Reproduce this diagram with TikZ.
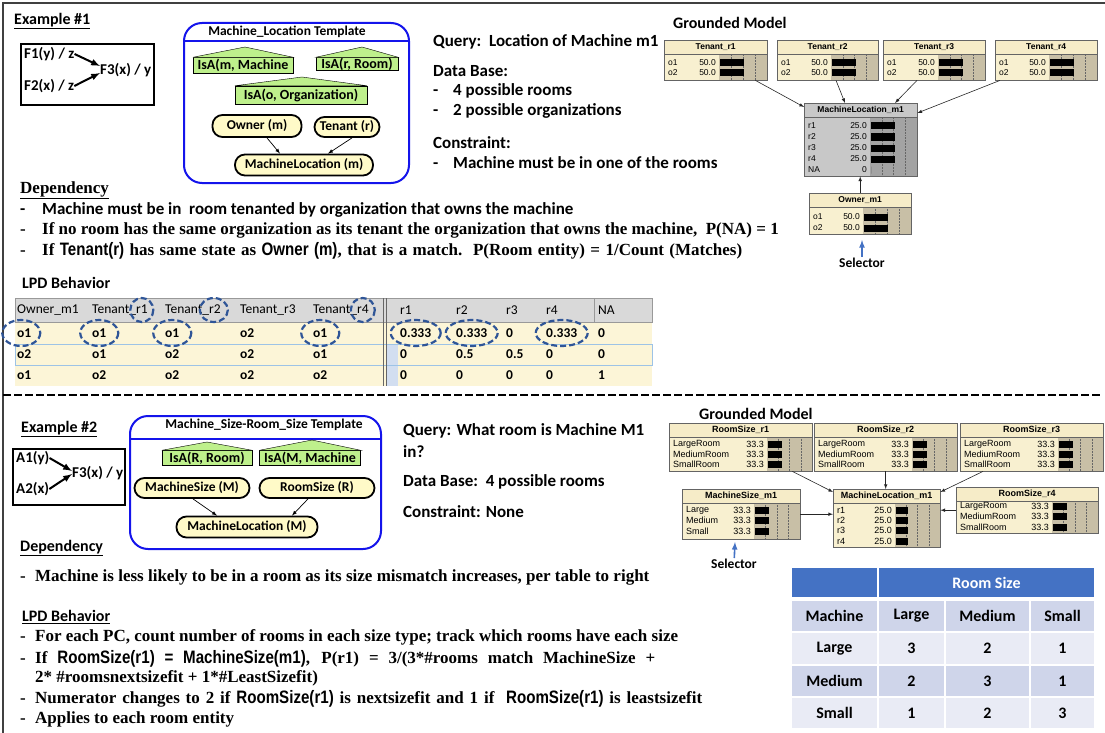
\documentclass[tikz,border=0pt]{standalone}
\usepackage{fontspec}
\setmainfont{Carlito}
\newfontfamily\serifbf{Liberation Serif}
\newfontfamily\narrowsans[FakeStretch=0.84]{Liberation Sans}
\newfontfamily\netfont{Liberation Sans}
\usepackage{tikz}
\usetikzlibrary{arrows}
\usetikzlibrary{calc}
\usetikzlibrary{positioning}

\definecolor{templblue}{RGB}{20,20,235}
\definecolor{isagreen}{RGB}{190,240,140}
\definecolor{nodeyellow}{RGB}{255,250,200}
\definecolor{tblhead}{RGB}{217,217,217}
\definecolor{tblrow}{RGB}{252,245,215}
\definecolor{selblue}{RGB}{157,195,230}
\definecolor{stripblue}{RGB}{210,222,240}
\definecolor{dashblue}{RGB}{47,85,151}
\definecolor{netedge}{RGB}{100,100,100}
\definecolor{nbA}{RGB}{248,240,208}
\definecolor{nhA}{RGB}{246,236,200}
\definecolor{nbarA}{RGB}{200,191,166}
\definecolor{nbB}{RGB}{200,200,200}
\definecolor{nhB}{RGB}{200,200,200}
\definecolor{nbarB}{RGB}{163,163,163}
\definecolor{selarrowc}{RGB}{68,114,196}
\definecolor{rshead}{RGB}{68,114,196}
\definecolor{rsdark}{RGB}{207,213,234}
\definecolor{rslight}{RGB}{233,235,245}

\def\nethh{14}
\def\netfs{8.5}
% #1 colours, #2 name, #3 x, #4 y, #5 width, #6 height, #7 bar start, #8 title, #9 rows
\newcommand{\netnode}[9]{%
  \node[netbody, fill=nb#1, minimum width=#5, minimum height=#6] (#2) at (#3,#4) {};
  \fill[nbar#1] ({#3+#7},{#4+\nethh}) rectangle ({#3+#5},{#4+#6});
  \foreach \f in {0.25,0.5,0.75}
    \draw[netgrid] ({#3+#7+\f*(#5-#7)},{#4+\nethh}) -- ++(0,{#6-\nethh});
  \node[nethead, fill=nh#1, minimum width=#5] (#2-t) at (#3,#4) {#8};
  \foreach \lab/\val/\bl/\yy [count=\k] in {#9} {
    \node[netrow, anchor=west] (#2-l\k) at ({#3+4},{#4+\yy}) {\lab};
    \node[netrow, anchor=east] (#2-v\k) at ({#3+#7-3},{#4+\yy}) {\val};
    \fill ({#3+#7+1},{#4+\yy-3.5}) rectangle ++(\bl,7);
  }
  \draw[netedge] (#2.north west) rectangle (#2.south east);
}
\newcommand{\nsans}[1]{{\narrowsans\fontsize{18}{20}\selectfont #1}}

\begin{document}
\begin{tikzpicture}
	[x=1pt, y=-1pt, > = latex,
	frameline/.style = {line width=2pt, black!75},
	sepline/.style = {line width=2.5pt, dash pattern=on 8pt off 3pt},
	txt/.style = {inner sep=0pt, anchor=west},
	head/.style = {txt, font=\fontsize{16}{19}\selectfont\bfseries},
	query/.style = {txt, font=\fontsize{17}{20}\selectfont\bfseries},
	serif/.style = {txt, font=\serifbf\fontsize{17}{20}\selectfont\bfseries},
	fbox/.style = {draw, line width=2pt, inner sep=0pt, anchor=north west},
	ftext/.style = {txt, font=\fontsize{15}{18}\selectfont\bfseries},
	fatarrow/.style = {->, line width=2pt},
	template/.style = {draw=templblue, line width=2pt, rounded corners=18pt, anchor=north west, inner sep=0pt},
	templline/.style = {draw=templblue, line width=2pt},
	tmpltitle/.style = {inner sep=0pt, font=\fontsize{13.5}{16}\selectfont\bfseries},
	isa/.style = {draw, fill=isagreen, inner sep=0pt, font=\fontsize{14}{16}\selectfont\bfseries},
	isaroof/.style = {draw, fill=isagreen},
	rv/.style = {draw, line width=1.8pt, fill=nodeyellow, rounded corners=10pt, inner sep=0pt, font=\fontsize{13.5}{16}\selectfont\bfseries},
	thinarrow/.style = {->, line width=0.7pt},
	netbody/.style = {draw=netedge, inner sep=0pt, anchor=north west},
	nethead/.style = {draw=netedge, inner sep=0pt, anchor=north west, minimum height=\nethh, font=\netfont\fontsize{\netfs}{10}\selectfont\bfseries},
	netrow/.style = {inner sep=0pt, font=\netfont\fontsize{\netfs}{10}\selectfont},
	netgrid/.style = {densely dotted, black!60, line width=0.5pt},
	netarrow/.style = {->, black!85, line width=0.6pt},
	selector/.style = {inner sep=1pt, font=\fontsize{13.5}{16}\selectfont\bfseries},
	selarrow/.style = {->, selarrowc, line width=1.6pt},
	lpdhead/.style = {txt, font=\fontsize{13.5}{16}\selectfont},
	lpdcell/.style = {txt, font=\fontsize{13.5}{16}\selectfont\bfseries},
	dashring/.style = {dashblue, line width=2.2pt, dash pattern=on 6pt off 3pt},
	rscell/.style = {draw=white, line width=1.5pt, inner sep=0pt, font=\fontsize{16}{19}\selectfont\bfseries}
	]
	\useasboundingbox (0,0) rectangle (1105,733);
	\draw[frameline] (3,733) -- (3,3) -- (1105,3);
	\draw[sepline] (3,395) -- (1100,395);

	% Example 1
	\node[head] (ex1) at (14,21) {\underline{Example \#1}};
	\node[fbox, minimum width=133, minimum height=61] (fbox1) at (20,43) {};
	\node[ftext] (f1) at (24,54) {F1(y) / z};
	\node[ftext] (f2) at (24,86) {F2(x) / z};
	\node[ftext] (f3) at (100,70) {F3(x) / y};
	\draw[fatarrow] (f1.east) -- ([yshift=4pt]f3.west);
	\draw[fatarrow] (f2.east) -- ([yshift=-3pt]f3.west);

	\node[template, minimum width=225, minimum height=160] (tmpl1) at (183,22) {};
	\draw[templline] (183,41) -- (408,41);
	\node[tmpltitle] (tt1) at (287,32) {Machine\_Location Template};
	\node[isa, minimum width=100, minimum height=16] (isam) at (243,65.5) {IsA(m, Machine};
	\node[isa, minimum width=82, minimum height=13] (isar) at (357,64) {IsA(r, Room)};
	\node[isa, minimum width=132, minimum height=18] (isao) at (301,95) {IsA(o, Organization)};
	\filldraw[isaroof] (isam.north west) -- (245,47) -- (isam.north east) -- cycle;
	\filldraw[isaroof] (isar.north west) -- (362,47) -- (isar.north east) -- cycle;
	\filldraw[isaroof] (isao.north west) -- (302,77) -- (isao.north east) -- cycle;
	\node[rv, minimum width=89, minimum height=22] (owner) at (257,126) {Owner (m)};
	\node[rv, minimum width=65, minimum height=20] (tenant) at (347,127) {Tenant (r)};
	\node[rv, minimum width=138, minimum height=21] (mloc) at (304,165) {MachineLocation (m)};
	\draw[thinarrow] ([xshift=10pt]owner.south) -- ([xshift=-24pt]mloc.north);
	\draw[thinarrow] ([xshift=5pt]tenant.south) -- ([xshift=24pt]mloc.north);

	\node[query] (q1) at (433,42) {Query:\ \ Location of Machine m1};
	\node[query] (db1) at (433,71) {Data Base:};
	\node[query] (db2) at (433,91) {\makebox[20pt][l]{-}4 possible rooms};
	\node[query] (db3) at (433,111) {\makebox[20pt][l]{-}2 possible organizations};
	\node[query] (cn1) at (433,143) {Constraint:};
	\node[query] (cn2) at (433,163) {\makebox[20pt][l]{-}Machine must be in one of the rooms};

	% grounded model 1
	\node[head] (gm1) at (673,23) {Grounded Model};
	\netnode{A}{tr1}{664}{40}{103}{40}{55}{Tenant\_r1}{o1/50.0/24/23, o2/50.0/24/33}
	\netnode{A}{tr2}{777}{40}{101}{40}{54}{Tenant\_r2}{o1/50.0/24/23, o2/50.0/24/33}
	\netnode{A}{tr3}{883}{40}{102}{40}{55}{Tenant\_r3}{o1/50.0/24/23, o2/50.0/24/33}
	\netnode{A}{tr4}{995}{40}{102}{40}{54}{Tenant\_r4}{o1/50.0/24/23, o2/50.0/24/33}
	\netnode{B}{ml1}{804}{103}{113}{73}{66}{MachineLocation\_m1}{r1/25.0/24/23, r2/25.0/24/34, r3/25.0/24/45, r4/25.0/24/56, NA/0/0/67}
	\netnode{A}{own1}{809}{193}{102}{41}{54}{Owner\_m1}{o1/50.0/24/24, o2/50.0/24/35}
	\draw[netarrow] ([xshift=-12pt]tr1.south east) -- ([yshift=-4pt]ml1.north west);
	\draw[netarrow] ([xshift=59pt]tr2.south west) -- ([xshift=41pt]ml1.north west);
	\draw[netarrow] ([xshift=34pt]tr3.south west) -- ([xshift=91pt]ml1.north west);
	\draw[netarrow] ([xshift=5pt]tr4.south west) -- ([yshift=-10pt]ml1.north east);
	\draw[netarrow] (own1.north) -- (own1.north |- ml1.south);
	\node[selector] (sel1) at (862,263) {Selector};
	\coordinate (sel1tip) at (862,240);
	\draw[selarrow] (sel1) -- (sel1tip);

	% dependency 1
	\node[serif] (dep1) at (20,190) {\underline{Dependency}};
	\node[query] (dep1a) at (20,210) {\makebox[22pt][l]{-}Machine must be in\ \ room tenanted by organization that owns the machine};
	\node[serif] (dep1b) at (20,230) {\makebox[22pt][l]{-}If no room has the same organization as its tenant the organization that owns the machine,\ \ P(NA) = 1};
	\node[serif] (dep1c) at (20,251) {\makebox[22pt][l]{-}\makebox[700pt][s]{If \nsans{Tenant(r)} has same state as \nsans{Owner (m)}, that is a match.\ \ P(Room entity) = 1/Count (Matches)}};
	\node[head] (lpd1) at (22,283) {LPD Behavior};

	% LPD table
	\fill[tblhead] (15,298) rectangle (652,322);
	\fill[tblrow] (15,322) rectangle (652,386);
	\fill[stripblue] (386,344) rectangle (398,386);
	\draw[black!40] (15,298) rectangle (652,322);
	\draw[black!40] (594,298) -- (594,322);
	\draw[selblue, line width=1pt] (15,344) rectangle (652,365);
	\draw[black!60, line width=1pt] (383,298) -- (383,386);
	\draw[black!60, line width=1pt] (386,298) -- (386,386);
	\foreach \t/\x [count=\i] in {Owner\_m1/17, Tenant\_r1/92, Tenant\_r2/165, Tenant\_r3/240, Tenant\_r4/313, r1/400, r2/456, r3/506, r4/546, NA/598}
		\node[lpdhead] (h\i) at (\x,310) {\t};
	\foreach \t/\x [count=\i] in {o1/17, o1/92, o1/165, o2/240, o1/313, 0.333/400, 0.333/456, 0/506, 0.333/546, 0/598}
		\node[lpdcell] (a\i) at (\x,333) {\t};
	\foreach \t/\x [count=\i] in {o2/17, o1/92, o2/165, o2/240, o1/313, 0/400, 0.5/456, 0.5/506, 0/546, 0/598}
		\node[lpdcell] (b\i) at (\x,354.5) {\t};
	\foreach \t/\x [count=\i] in {o1/17, o2/92, o2/165, o2/240, o2/313, 0/400, 0/456, 0/506, 0/546, 1/598}
		\node[lpdcell] (c\i) at (\x,375.5) {\t};
	\draw[dashring] ([xshift=-6pt]h2.east) ellipse (11.5 and 12);
	\draw[dashring] ([xshift=-7pt]h3.east) ellipse (14 and 12);
	\draw[dashring] ([xshift=-6pt]h5.east) ellipse (12 and 12);
	\draw[dashring] ([xshift=-3pt]a1.center) ellipse (19 and 13);
	\draw[dashring] (a2) ellipse (19 and 13);
	\draw[dashring] (a3) ellipse (19 and 13);
	\draw[dashring] (a5) ellipse (19 and 13);
	\draw[dashring] (a6) ellipse (25 and 13);
	\draw[dashring] (a7) ellipse (26 and 13);
	\draw[dashring] (a9) ellipse (26 and 13);

	% Example 2
	\node[head] (ex2) at (21,429) {\underline{Example \#2}};
	\node[fbox, minimum width=112, minimum height=56] (fbox2) at (12,448) {};
	\node[ftext] (a1f) at (16,458) {A1(y)};
	\node[ftext] (a2f) at (16,489) {A2(x)};
	\node[ftext] (f3b) at (72,473) {F3(x) / y};
	\draw[fatarrow] (a1f.east) -- ([yshift=2pt]f3b.west);
	\draw[fatarrow] (a2f.east) -- ([yshift=-1pt]f3b.west);

	\node[template, minimum width=251, minimum height=133] (tmpl2) at (129,415) {};
	\draw[templline] (129,439) -- (380,439);
	\node[tmpltitle] (tt2) at (264,425) {Machine\_Size-Room\_Size Template};
	\node[isa, minimum width=90, minimum height=15] (isaR) at (207,458) {IsA(R, Room)};
	\node[isa, minimum width=101, minimum height=15] (isaM) at (310,458) {IsA(M, Machine};
	\filldraw[isaroof] (isaR.north west) -- (207,442) -- (isaR.north east) -- cycle;
	\filldraw[isaroof] (isaM.north west) -- (312,440) -- (isaM.north east) -- cycle;
	\node[rv, minimum width=115, minimum height=20] (msz) at (192,488) {MachineSize (M)};
	\node[rv, minimum width=115, minimum height=20] (rsz) at (317,488) {RoomSize (R)};
	\node[rv, minimum width=141, minimum height=21] (mloc2) at (247,527) {MachineLocation (M)};
	\draw[thinarrow] ([xshift=1pt]msz.south) -- ([xshift=-30pt]mloc2.north);
	\draw[thinarrow] ([xshift=-9pt]rsz.south) -- ([xshift=45pt]mloc2.north);

	\node[query] (q2a) at (403,431) {Query: What room is Machine M1};
	\node[query] (q2b) at (403,452) {in?};
	\node[query] (q2c) at (403,482) {Data Base:\ \ 4 possible rooms};
	\node[query] (q2d) at (403,512) {Constraint: None};

	% grounded model 2
	\node[head] (gm2) at (699,414) {Grounded Model};
	\def\netfs{9}
	\netnode{A}{rs1}{669}{423}{143}{48}{98}{RoomSize\_r1}{LargeRoom/33.3/14/21, MediumRoom/33.3/14/31, SmallRoom/33.3/14/41}
	\netnode{A}{rs2}{814}{423}{143}{48}{98}{RoomSize\_r2}{LargeRoom/33.3/14/21, MediumRoom/33.3/14/31, SmallRoom/33.3/14/41}
	\netnode{A}{rs3}{960}{423}{143}{48}{98}{RoomSize\_r3}{LargeRoom/33.3/14/21, MediumRoom/33.3/14/31, SmallRoom/33.3/14/41}
	\netnode{A}{ms1}{682}{489}{118}{50}{72}{MachineSize\_m1}{Large/33.3/14/21, Medium/33.3/14/31, Small/33.3/14/42}
	\netnode{A}{ml2}{833}{489}{107}{58}{62}{MachineLocation\_m1}{r1/25.0/12/21, r2/25.0/12/31, r3/25.0/12/41, r4/25.0/12/52}
	\netnode{A}{rs4}{956}{487}{142}{46}{96}{RoomSize\_r4}{LargeRoom/33.3/14/19, MediumRoom/33.3/14/29, SmallRoom/33.3/14/40}
	\draw[netarrow] ([xshift=-20pt]rs1.south east) -- ([yshift=-3pt]ml2.north west);
	\draw[netarrow] (rs2.south) -- (rs2.south |- ml2.north);
	\draw[netarrow] ([xshift=23pt]rs3.south west) -- ([yshift=-3pt]ml2.north east);
	\draw[netarrow] (ms1.east) -- (ms1.east -| ml2.west);
	\draw[netarrow] (rs4.west) -- (rs4.west -| ml2.east);
	\node[selector] (sel2) at (734,564) {Selector};
	\coordinate (sel2tip) at (735,542);
	\draw[selarrow] (sel2) -- (sel2tip);

	% dependency 2
	\node[head] (dep2) at (20,548) {\underline{Dependency}};
	\node[serif] (dep2a) at (20,577) {\makebox[15pt][l]{-}Machine is less likely to be in a room as its size mismatch increases, per table to right};
	\node[head] (lpd2) at (22,617) {\underline{LPD Behavior}};
	\node[serif] (lp1) at (20,637) {\makebox[15pt][l]{-}For each PC, count number of rooms in each size type; track which rooms have each size};
	\node[serif] (lp2) at (20,659) {\makebox[15pt][l]{-}\makebox[620pt][s]{If \nsans{RoomSize(r1) = MachineSize(m1)}, P(r1) = 3/(3*\#rooms match MachineSize +}};
	\node[serif] (lp3) at (35,678) {2* \#roomsnextsizefit + 1*\#LeastSizefit)};
	\node[serif] (lp4) at (20,699) {\makebox[15pt][l]{-}\makebox[667pt][s]{Numerator changes to 2 if \nsans{RoomSize(r1)} is nextsizefit and 1 if\ \ \nsans{RoomSize(r1)} is leastsizefit}};
	\node[serif] (lp5) at (20,719) {\makebox[15pt][l]{-}Applies to each room entity};

	% room size table
	\node[rscell, fill=rshead, minimum width=87, minimum height=31] (rsh0) at (834.5,582.5) {};
	\node[rscell, fill=rshead, minimum width=217, minimum height=31, text=white] (rsh1) at (986.5,582.5) {Room Size};
	\foreach \ca/\cb/\cc/\cd/\yy/\col [count=\r] in {Machine/Large/Medium/Small/616/rsdark, Large/3/2/1/648.5/rslight, Medium/2/3/1/681/rsdark, Small/1/2/3/713/rslight} {
		\node[rscell, fill=\col, minimum width=87, minimum height=32] (rs\r a) at (834.5,\yy) {\ca};
		\node[rscell, fill=\col, minimum width=67, minimum height=32] (rs\r b) at (911.5,\yy) {\cb};
		\node[rscell, fill=\col, minimum width=85, minimum height=32] (rs\r c) at (987.5,\yy) {\cc};
		\node[rscell, fill=\col, minimum width=65, minimum height=32] (rs\r d) at (1062.5,\yy) {\cd};
	}
\end{tikzpicture}
\end{document}
